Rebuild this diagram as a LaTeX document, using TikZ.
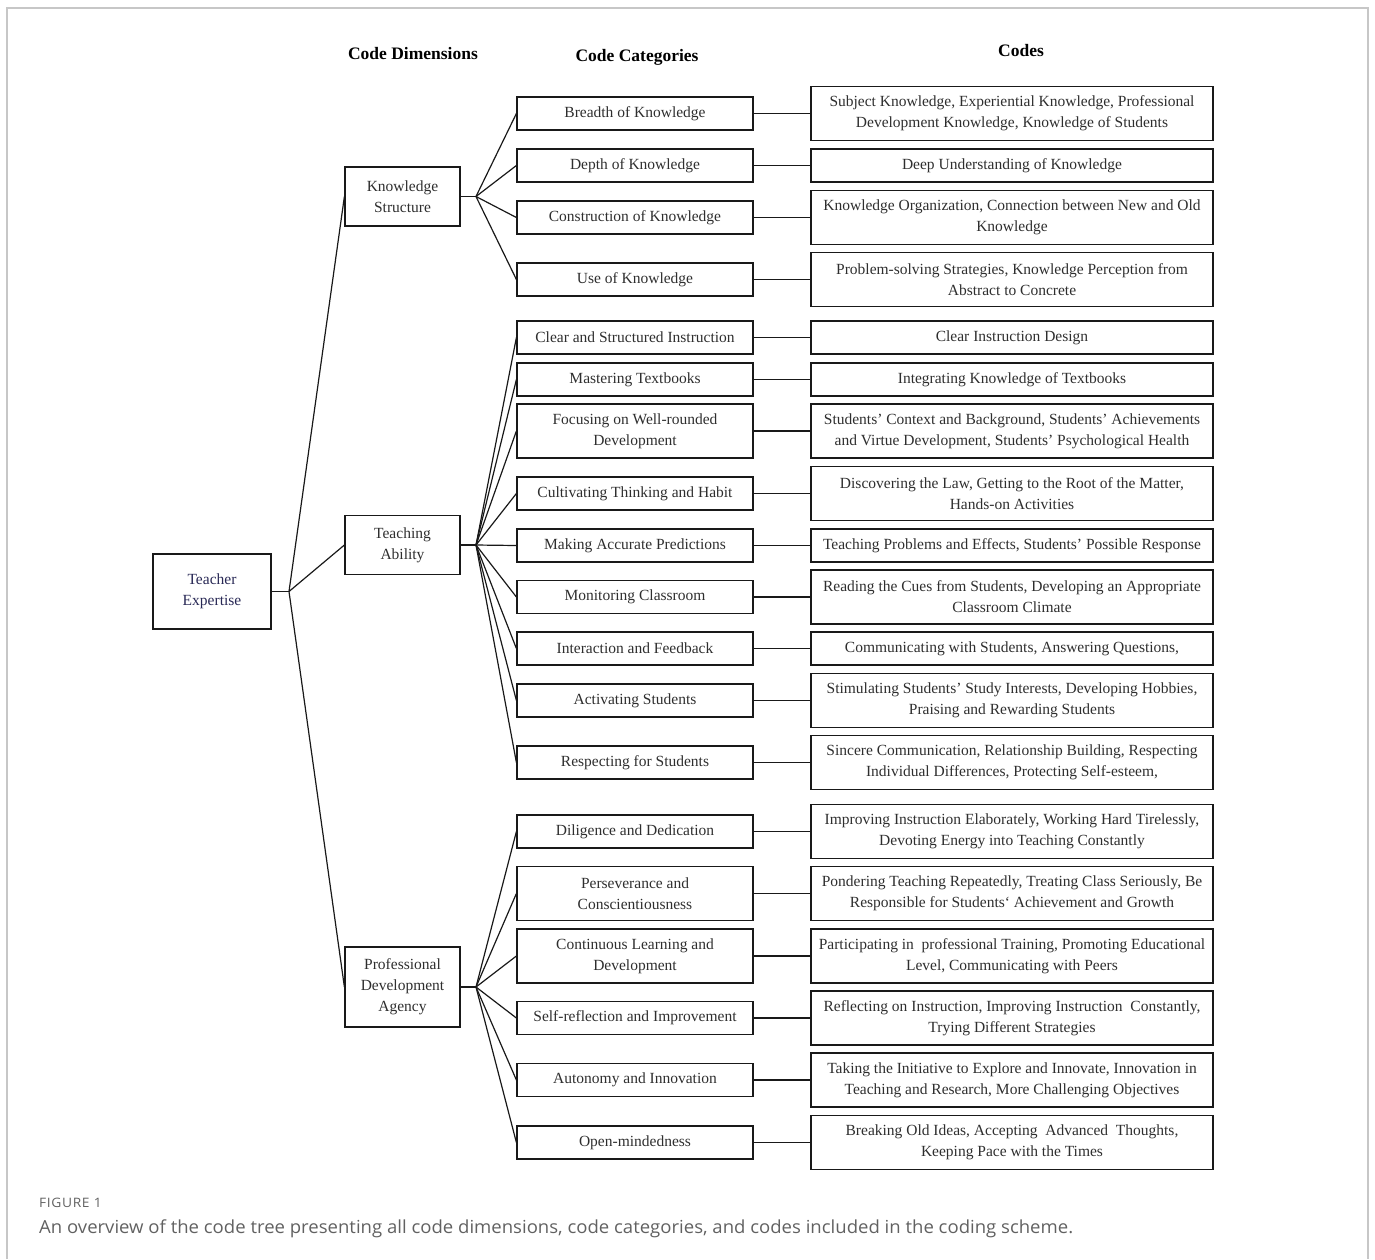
\documentclass[tikz,border=0pt]{standalone}
\usepackage{fontspec}
\setmainfont{Liberation Serif}
\newfontfamily\capfont[FakeStretch=1.03]{Open Sans}
\newfontfamily\figfont[FakeStretch=1.06,LetterSpace=5]{Open Sans}
\begin{document}
\begin{tikzpicture}[x=1pt,y=-1pt,
  box/.style={draw=black!90, line width=1.2pt, inner sep=0pt, align=center,
    font=\fontsize{15.5}{21}\selectfont, text=black!82},
  dimbox/.style={box, minimum width=115, minimum height=59},
  catbox/.style={box, minimum width=236, minimum height=33},
  codebox/.style={box, minimum width=402, minimum height=33},
  tall/.style={minimum height=54},
  link/.style={line width=1.2pt, black!90},
  head/.style={font=\fontsize{17.5}{21}\selectfont\bfseries, text=black}]
\useasboundingbox (0,0) rectangle (1375,1259);
\draw[black!22, line width=1.2pt] (7,1259) -- (7,8) -- (1368,8) -- (1368,1259);

% headers
\node[head] (h1) at (413,54) {Code Dimensions};
\node[head] (h2) at (637,57) {Code Categories};
\node[head] (h3) at (1021,51) {Codes};

% root and dimensions
\node[box, minimum width=118, minimum height=75, text={rgb,255:red,40;green,40;blue,85}] (te) at (212,591.5) {Teacher\\Expertise};
\node[dimbox] (ks) at (402.5,196.5) {Knowledge\\Structure};
\node[dimbox] (ta) at (402.5,545) {Teaching\\Ability};
\node[dimbox, minimum height=80] (pd) at (402.5,987) {Professional\\Development\\Agency};

\coordinate (rj) at (289,591.5);
\coordinate (kj) at (476,196.5);
\coordinate (tj) at (476,545);
\coordinate (pj) at (476,987);

\draw[link] (te.east) -- (rj);
\foreach \d in {ks,ta,pd} \draw[link] (rj) -- (\d.west);
\draw[link] (ks.east) -- (kj);
\draw[link] (ta.east) -- (tj);
\draw[link] (pd.east) -- (pj);

% categories and codes
\newcommand{\crow}[7]{%
  \node[catbox,#3] (c#1) at (635,#2) {#4};
  \node[codebox,#5] (k#1) at (1012,#2) {#6};
  \draw[link] (c#1.east) -- (k#1.west);
  \draw[link] (#7) -- (c#1.west);}

\crow{1}{113.5}{}{Breadth of Knowledge}{tall}{Subject Knowledge, Experiential Knowledge, Professional\\Development Knowledge, Knowledge of Students}{kj}
\crow{2}{165.5}{}{Depth of Knowledge}{}{Deep Understanding of Knowledge}{kj}
\crow{3}{217.5}{}{Construction of Knowledge}{tall}{Knowledge Organization, Connection between New and Old\\Knowledge}{kj}
\crow{4}{279.5}{}{Use of Knowledge}{tall}{Problem-solving Strategies, Knowledge Perception from\\Abstract to Concrete}{kj}

\crow{5}{337.5}{}{Clear and Structured Instruction}{}{Clear Instruction Design}{tj}
\crow{6}{379.5}{}{Mastering Textbooks}{}{Integrating Knowledge of Textbooks}{tj}
\crow{7}{431}{tall}{Focusing on Well-rounded\\Development}{tall}{Students' Context and Background, Students' Achievements\\and Virtue Development, Students' Psychological Health}{tj}
\crow{8}{493.5}{}{Cultivating Thinking and Habit}{tall}{Discovering the Law, Getting to the Root of the Matter,\\Hands-on Activities}{tj}
\crow{9}{545.5}{}{Making Accurate Predictions}{}{Teaching Problems and Effects, Students' Possible Response}{tj}
\crow{10}{597}{}{Monitoring Classroom}{tall}{Reading the Cues from Students, Developing an Appropriate\\Classroom Climate}{tj}
\crow{11}{648.5}{}{Interaction and Feedback}{}{Communicating with Students, Answering Questions,}{tj}
\crow{12}{700.5}{}{Activating Students}{tall}{Stimulating Students' Study Interests, Developing Hobbies,\\Praising and Rewarding Students}{tj}
\crow{13}{762.5}{}{Respecting for Students}{tall}{Sincere Communication, Relationship Building, Respecting\\Individual Differences, Protecting Self-esteem,}{tj}

\crow{14}{831.5}{}{Diligence and Dedication}{tall}{Improving Instruction Elaborately, Working Hard Tirelessly,\\Devoting Energy into Teaching Constantly}{pj}
\crow{15}{893.5}{tall}{Perseverance and\\Conscientiousness}{tall}{Pondering Teaching Repeatedly, Treating Class Seriously, Be\\Responsible for Students‘ Achievement and Growth}{pj}
\crow{16}{956}{tall}{Continuous Learning and\\Development}{tall}{Participating in\ \ professional Training, Promoting Educational\\Level, Communicating with Peers}{pj}
\crow{17}{1018}{}{Self-reflection and Improvement}{tall}{Reflecting on Instruction, Improving Instruction\ \ Constantly,\\Trying Different Strategies}{pj}
\crow{18}{1080}{}{Autonomy and Innovation}{tall}{Taking the Initiative to Explore and Innovate, Innovation in\\Teaching and Research, More Challenging Objectives}{pj}
\crow{19}{1142.5}{}{Open-mindedness}{tall}{Breaking Old Ideas, Accepting\ \ Advanced\ \ Thoughts,\\Keeping Pace with the Times}{pj}

% caption
\node[anchor=west, inner sep=0pt, font=\figfont\fontsize{13}{15}\selectfont, text=black!62] (fig) at (39,1203) {FIGURE 1};
\node[anchor=west, inner sep=0pt, font=\capfont\fontsize{18}{21}\selectfont, text=black!62] (cap) at (39,1229) {An overview of the code tree presenting all code dimensions, code categories, and codes included in the coding scheme.};
\end{tikzpicture}
\end{document}
